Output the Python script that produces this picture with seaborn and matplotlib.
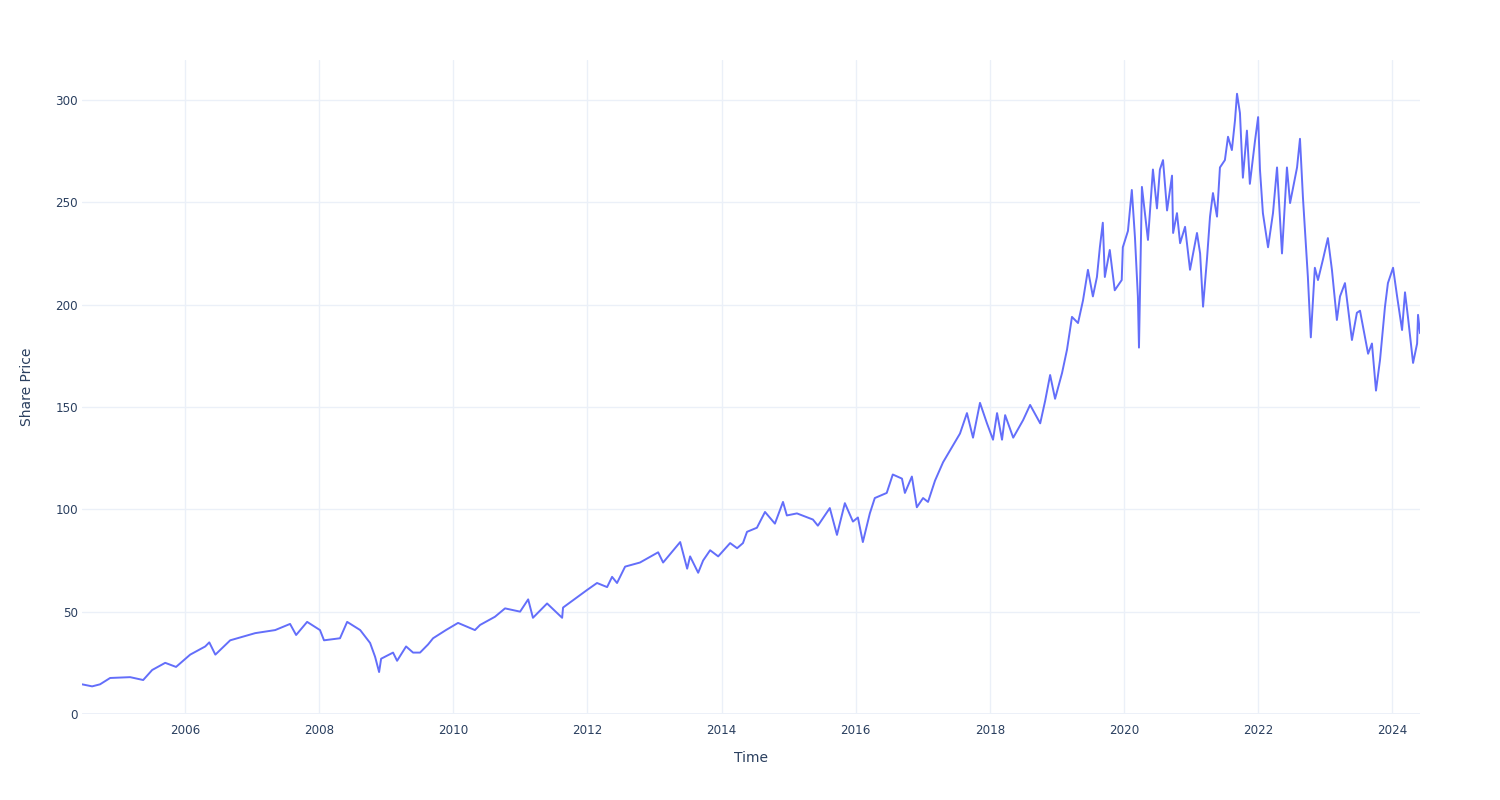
import pandas as pd
import matplotlib.pyplot as plt
import matplotlib.dates as mdates
import seaborn as sns

# values
dates = [
    "2004-06-18", "2004-08-12", "2004-09-24", "2004-11-18", "2005-03-07", "2005-05-17",
    "2005-07-05", "2005-09-14", "2005-11-12", "2006-01-28", "2006-04-20", "2006-05-12",
    "2006-06-14", "2006-09-03", "2007-01-17", "2007-05-06", "2007-07-26", "2007-08-28",
    "2007-10-27", "2008-01-05", "2008-01-27", "2008-04-23", "2008-06-01", "2008-08-11",
    "2008-10-04", "2008-10-31", "2008-11-22", "2008-12-03", "2009-02-06", "2009-02-28",
    "2009-04-18", "2009-05-26", "2009-07-03", "2009-08-16", "2009-09-12", "2009-11-21",
    "2010-01-26", "2010-04-28", "2010-05-26", "2010-08-15", "2010-10-09", "2010-12-30",
    "2011-02-12", "2011-03-01", "2011-03-10", "2011-05-26", "2011-08-16", "2011-08-21",
    "2011-12-30", "2012-02-22", "2012-04-17", "2012-05-14", "2012-06-10", "2012-07-24",
    "2012-10-13", "2013-01-20", "2013-02-16", "2013-05-20", "2013-06-27", "2013-07-13",
    "2013-08-26", "2013-09-22", "2013-10-30", "2013-12-13", "2014-02-16", "2014-03-26",
    "2014-04-27", "2014-05-19", "2014-07-12", "2014-08-25", "2014-10-18", "2014-12-01",
    "2014-12-22", "2015-02-15", "2015-05-13", "2015-06-09", "2015-08-13", "2015-09-21",
    "2015-11-03", "2015-12-17", "2016-01-13", "2016-02-09", "2016-03-18", "2016-04-14",
    "2016-06-18", "2016-07-21", "2016-09-09", "2016-09-25", "2016-11-02", "2016-11-29",
    "2017-01-02", "2017-01-29", "2017-03-08", "2017-04-21", "2017-07-22", "2017-08-29",
    "2017-10-01", "2017-11-08", "2017-12-16", "2018-01-18", "2018-02-09", "2018-03-08",
    "2018-03-25", "2018-05-08", "2018-07-01", "2018-08-08", "2018-10-02", "2018-10-29",
    "2018-11-25", "2018-12-22", "2019-01-29", "2019-02-25", "2019-03-24", "2019-04-26",
    "2019-05-23", "2019-06-19", "2019-07-16", "2019-08-07", "2019-08-23", "2019-09-08",
    "2019-09-19", "2019-10-16", "2019-11-12", "2019-12-20", "2019-12-26", "2020-01-23",
    "2020-02-13", "2020-03-01", "2020-03-17", "2020-03-23", "2020-04-08", "2020-05-11",
    "2020-06-07", "2020-06-29", "2020-07-15", "2020-08-01", "2020-08-23", "2020-09-19",
    "2020-09-25", "2020-10-16", "2020-11-02", "2020-11-29", "2020-12-26", "2021-02-02",
    "2021-02-19", "2021-03-07", "2021-03-29", "2021-04-14", "2021-04-30", "2021-05-22",
    "2021-06-07", "2021-07-04", "2021-07-21", "2021-08-11", "2021-08-28", "2021-09-08",
    "2021-09-24", "2021-10-10", "2021-11-01", "2021-11-17", "2021-12-15", "2022-01-01",
    "2022-01-11", "2022-01-27", "2022-02-24", "2022-03-23", "2022-04-14", "2022-05-11",
    "2022-06-07", "2022-06-24", "2022-08-01", "2022-08-17", "2022-09-02", "2022-09-29",
    "2022-10-15", "2022-11-06", "2022-11-23", "2022-12-20", "2023-01-16", "2023-02-07",
    "2023-03-06", "2023-03-23", "2023-04-19", "2023-05-27", "2023-06-23", "2023-07-10",
    "2023-08-06", "2023-08-23", "2023-09-13", "2023-10-05", "2023-10-27", "2023-11-23",
    "2023-12-09", "2024-01-06", "2024-01-28", "2024-02-24", "2024-03-11", "2024-03-27",
    "2024-04-24", "2024-05-16", "2024-05-21", "2024-06-01",
]
prices = [
    14.5, 13.5, 14.5, 17.6, 18.0, 16.6,
    21.5, 25.0, 23.0, 29.0, 33.0, 35.0,
    29.0, 36.0, 39.5, 41.0, 44.0, 38.6,
    45.0, 41.0, 36.0, 37.0, 45.0, 41.0,
    34.7, 28.0, 20.5, 27.0, 30.0, 26.0,
    33.0, 30.0, 30.0, 34.0, 37.0, 41.0,
    44.5, 41.0, 43.5, 47.5, 51.6, 50.0,
    56.0, 50.0, 47.0, 54.0, 47.0, 52.0,
    60.6, 64.0, 62.0, 67.0, 64.0, 72.0,
    74.0, 79.0, 74.0, 84.0, 71.0, 77.0,
    69.0, 75.0, 80.0, 77.0, 83.5, 81.0,
    83.5, 89.0, 91.0, 98.7, 93.0, 103.6,
    97.0, 98.0, 95.0, 92.0, 100.6, 87.5,
    103.0, 94.0, 96.0, 84.0, 98.0, 105.5,
    108.0, 117.0, 115.0, 108.0, 116.0, 101.0,
    105.5, 103.6, 114.0, 123.0, 137.0, 147.0,
    135.0, 152.0, 142.0, 134.0, 147.0, 134.0,
    146.0, 135.0, 143.6, 151.0, 142.0, 153.0,
    165.6, 154.0, 166.6, 178.0, 194.0, 191.0,
    202.0, 217.0, 204.0, 213.5, 228.0, 240.0,
    213.5, 226.7, 207.0, 212.0, 228.0, 236.0,
    256.0, 233.0, 204.0, 179.0, 257.5, 231.6,
    266.0, 247.0, 266.0, 270.6, 246.0, 263.0,
    235.0, 244.7, 230.0, 238.0, 217.0, 235.0,
    225.0, 199.0, 223.0, 243.0, 254.5, 243.0,
    267.0, 270.6, 282.0, 275.5, 290.0, 303.0,
    293.6, 262.0, 285.0, 259.0, 280.0, 291.6,
    266.0, 244.7, 228.0, 244.7, 267.0, 225.0,
    267.0, 249.6, 267.0, 281.0, 252.5, 213.5,
    184.0, 218.0, 212.0, 222.0, 232.5, 217.0,
    192.5, 204.0, 210.5, 182.7, 196.0, 197.0,
    184.0, 176.0, 181.0, 158.0, 173.0, 199.0,
    210.5, 218.0, 204.0, 187.6, 206.0, 194.0,
    171.5, 181.0, 195.0, 186.0,
]
y_ticks = [0, 50, 100, 150, 200, 250, 300]

df = pd.DataFrame({"Time": pd.to_datetime(dates), "Share Price": prices})

sns.set_theme(style="white")
plt.rcParams["font.family"] = ["DejaVu Sans"]

grid_col = "#EBF0F8"
text_col = "#2a3f5f"

fig = plt.figure(figsize=(15, 8), dpi=100)
ax = fig.add_axes([0.0547, 0.1075, 0.892, 0.8175])

sns.lineplot(data=df, x="Time", y="Share Price", color="#636EFA", linewidth=1.4, ax=ax)

ax.set_xlim(df["Time"].iloc[0], df["Time"].iloc[-1])
ax.set_ylim(0, 319.5)
ax.set_yticks(y_ticks)
ax.xaxis.set_major_locator(mdates.YearLocator(2))
ax.xaxis.set_major_formatter(mdates.DateFormatter("%Y"))

ax.grid(True, color=grid_col, linewidth=1)
ax.set_axisbelow(True)
ax.axhline(0, color=grid_col, linewidth=2, zorder=0)
for s in ax.spines.values():
    s.set_visible(False)

ax.tick_params(axis="both", length=0, labelsize=8.6, colors=text_col)
ax.tick_params(axis="x", pad=7)
ax.tick_params(axis="y", pad=3)
ax.set_xlabel("Time", fontsize=10, color=text_col, labelpad=10)
ax.set_ylabel("Share Price", fontsize=10, color=text_col, labelpad=15)

fig.savefig("out.png", dpi=100, facecolor="white")
